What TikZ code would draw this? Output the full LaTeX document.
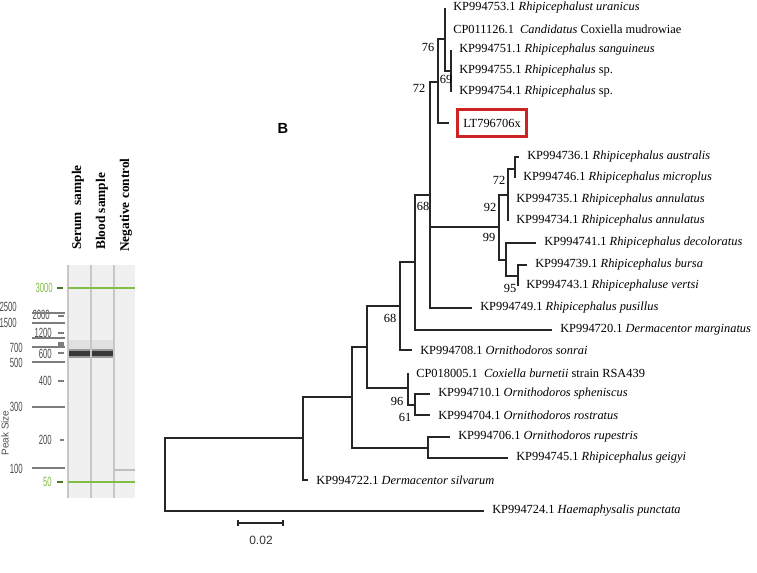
\documentclass[tikz,border=0pt]{standalone}
\usepackage{fontspec}
\setmainfont{Liberation Serif}
\newfontfamily\arialfont{Liberation Sans}
\newfontfamily\gelfont[FakeStretch=0.58]{Liberation Sans}
\usetikzlibrary{positioning}
\definecolor{gelgreen}{RGB}{130,190,70}
\definecolor{darkgreen}{RGB}{70,120,40}
\definecolor{boxred}{RGB}{205,35,35}
\definecolor{lanegrey}{RGB}{240,240,240}
\definecolor{tickgrey}{RGB}{125,125,125}

\begin{document}
\begin{tikzpicture}[x=0.75pt, y=-0.75pt,
branch/.style={line width=0.8pt, black!85},
leaf/.style={anchor=west, inner sep=0pt, xshift=6pt, font=\fontsize{9.3}{11}\selectfont},
boot/.style={inner sep=0pt, font=\fontsize{9.3}{11}\selectfont},
tick/.style={tickgrey, line width=0.9pt},
sizelabel/.style={anchor=east, inner sep=0pt, text=black!70, font=\gelfont\fontsize{10}{10}\selectfont},
header/.style={rotate=90, anchor=west, inner sep=0pt, font=\fontsize{10}{12}\selectfont\bfseries}
]
\useasboundingbox (0,0) rectangle (757,572);

% Gel panel
\fill[lanegrey] (68,265) rectangle (135,498);
\draw[black!22, line width=1pt] (68,265) -- (68,498);
\draw[black!22, line width=1.2pt] (91,265) -- (91,498);
\draw[black!22, line width=1.2pt] (114,265) -- (114,498);
\fill[black!12] (69,340) rectangle (90,349);
\fill[black!12] (92,340) rectangle (113,349);
\fill[black!40] (69,349) rectangle (90,358);
\fill[black!40] (92,349) rectangle (113,358);
\fill[black!78] (69,351) rectangle (90,356);
\fill[black!78] (92,351) rectangle (113,356);
\draw[black!25, line width=0.8pt] (115,470) -- (135,470);
\draw[gelgreen, line width=1.6pt] (68,288) -- (135,288);
\draw[gelgreen, line width=1.6pt] (68,482) -- (135,482);

\node[header] (serum) at (78,250) {Serum\ \ sample};
\node[header] (blood) at (102,250) {Blood sample};
\node[header] (negctl) at (126,252) {Negative control};

% size marks
\node[sizelabel, text=gelgreen] (s3000) at (53,288) {3000};
\node[sizelabel] (s2500) at (17,307) {2500};
\node[sizelabel] (s2000) at (50,315) {2000};
\node[sizelabel] (s1500) at (17,323) {1500};
\node[sizelabel] (s1200) at (52,333) {1200};
\node[sizelabel] (s700) at (23,348) {700};
\node[sizelabel] (s600) at (52,354) {600};
\node[sizelabel] (s500) at (23,363) {500};
\node[sizelabel] (s400) at (52,381) {400};
\node[sizelabel] (s300) at (23,407) {300};
\node[sizelabel] (s200) at (52,440) {200};
\node[sizelabel] (s100) at (23,469) {100};
\node[sizelabel, text=gelgreen] (s50) at (52,482) {50};
\draw[darkgreen, line width=1.6pt] (57,288) -- (63,288);
\draw[darkgreen, line width=1.6pt] (57,482) -- (63,482);
\draw[tick] (58,316) -- (64,316);
\draw[tick] (58,333) -- (64,333);
\draw[tick] (58,343) -- (64,343);
\draw[tick] (58,345) -- (64,345);
\draw[tick] (58,353) -- (64,353);
\draw[tick] (58,381) -- (64,381);
\draw[tick] (60,440) -- (64,440);
\draw[tick] (32,313) -- (65,313);
\draw[tick] (32,323) -- (65,323);
\draw[tick] (32,338) -- (65,338);
\draw[tick] (32,347) -- (65,347);
\draw[tick] (32,362) -- (65,362);
\draw[tick] (32,407) -- (65,407);
\draw[tick] (32,468) -- (65,468);
\node[rotate=90, inner sep=0pt, text=black!70, font=\arialfont\fontsize{7.5}{8}\selectfont] (peak) at (5,433) {Peak Size};

% Tree
\node[font=\arialfont\fontsize{11}{11}\selectfont\bfseries] (panelB) at (283,128) {B};

\coordinate (root) at (165,475);
\coordinate (n303) at (303,438);
\coordinate (n352) at (352,397);
\coordinate (n428) at (428,448);
\coordinate (n367) at (367,347);
\coordinate (n408) at (408,388);
\coordinate (n415b) at (415,405);
\coordinate (n400) at (400,306);
\coordinate (n415) at (415,262);
\coordinate (n430) at (430,195);
\coordinate (n438) at (438,82);
\coordinate (n445) at (445,39);
\coordinate (n451) at (451,71);
\coordinate (n499) at (499,227);
\coordinate (n508) at (508,195);
\coordinate (n515) at (515,169);
\coordinate (n506) at (506,260);
\coordinate (n518) at (518,276);

\coordinate (e1) at (445,8);
\coordinate (e2) at (445,29);
\coordinate (e3) at (451,50);
\coordinate (e4) at (451,71);
\coordinate (e5) at (451,92);
\coordinate (e7) at (519,157);
\coordinate (e8) at (515,178);
\coordinate (e9) at (508,200);
\coordinate (e10) at (508,221);
\coordinate (e11) at (536,243);
\coordinate (e12) at (527,265);
\coordinate (e13) at (518,286);
\coordinate (e14) at (472,308);
\coordinate (e15) at (552,330);
\coordinate (e16) at (412,350);
\coordinate (e17) at (408,373);
\coordinate (e18) at (430,394);
\coordinate (e19) at (430,415);
\coordinate (e20) at (450,437);
\coordinate (e21) at (508,458);
\coordinate (e22) at (308,480);
\coordinate (e23) at (484,511);

\node[leaf] (l1) at (e1) {KP994753.1 \textit{Rhipicephalust uranicus}};
\node[leaf] (l2) at (e2) {CP011126.1\ \ \textit{Candidatus} Coxiella mudrowiae};
\node[leaf] (l3) at (e3) {KP994751.1 \textit{Rhipicephalus sanguineus}};
\node[leaf] (l4) at (e4) {KP994755.1 \textit{Rhipicephalus} sp.};
\node[leaf] (l5) at (e5) {KP994754.1 \textit{Rhipicephalus} sp.};
\node[draw=boxred, line width=1.8pt, minimum width=52pt, minimum height=20pt, inner sep=0pt, font=\fontsize{9.3}{11}\selectfont] (lt) at (492,123) {LT796706x};
\node[leaf] (l7) at (e7) {KP994736.1 \textit{Rhipicephalus australis}};
\node[leaf] (l8) at (e8) {KP994746.1 \textit{Rhipicephalus microplus}};
\node[leaf] (l9) at (e9) {KP994735.1 \textit{Rhipicephalus annulatus}};
\node[leaf] (l10) at (e10) {KP994734.1 \textit{Rhipicephalus annulatus}};
\node[leaf] (l11) at (e11) {KP994741.1 \textit{Rhipicephalus decoloratus}};
\node[leaf] (l12) at (e12) {KP994739.1 \textit{Rhipicephalus bursa}};
\node[leaf] (l13) at (e13) {KP994743.1 \textit{Rhipicephaluse vertsi}};
\node[leaf] (l14) at (e14) {KP994749.1 \textit{Rhipicephalus pusillus}};
\node[leaf] (l15) at (e15) {KP994720.1 \textit{Dermacentor marginatus}};
\node[leaf] (l16) at (e16) {KP994708.1 \textit{Ornithodoros sonrai}};
\node[leaf] (l17) at (e17) {CP018005.1\ \ \textit{Coxiella burnetii} strain RSA439};
\node[leaf] (l18) at (e18) {KP994710.1 \textit{Ornithodoros spheniscus}};
\node[leaf] (l19) at (e19) {KP994704.1 \textit{Ornithodoros rostratus}};
\node[leaf] (l20) at (e20) {KP994706.1 \textit{Ornithodoros rupestris}};
\node[leaf] (l21) at (e21) {KP994745.1 \textit{Rhipicephalus geigyi}};
\node[leaf] (l22) at (e22) {KP994722.1 \textit{Dermacentor silvarum}};
\node[leaf] (l23) at (e23) {KP994724.1 \textit{Haemaphysalis punctata}};

\draw[branch] (root) |- (n303);
\draw[branch] (root) |- (e23);
\draw[branch] (n303) |- (n352);
\draw[branch] (n303) |- (e22);
\draw[branch] (n352) |- (n367);
\draw[branch] (n352) |- (n428);
\draw[branch] (n428) |- (e20);
\draw[branch] (n428) |- (e21);
\draw[branch] (n367) |- (n400);
\draw[branch] (n367) |- (n408);
\draw[branch] (n408) |- (e17);
\draw[branch] (n408) |- (n415b);
\draw[branch] (n415b) |- (e18);
\draw[branch] (n415b) |- (e19);
\draw[branch] (n400) |- (n415);
\draw[branch] (n400) |- (e16);
\draw[branch] (n415) |- (n430);
\draw[branch] (n415) |- (e15);
\draw[branch] (n430) |- (n438);
\draw[branch] (n430) |- (n499);
\draw[branch] (n430) |- (e14);
\draw[branch] (n438) |- (n445);
\draw[branch] (n438) |- ([xshift=-5pt]lt.west);
\draw[branch] (n445) |- (e1);
\draw[branch] (n445) |- (e2);
\draw[branch] (n445) |- (n451);
\draw[branch] (n451) |- (e3);
\draw[branch] (n451) |- (e5);
\draw[branch] (n499) |- (n508);
\draw[branch] (n499) |- (n506);
\draw[branch] (n508) |- (n515);
\draw[branch] (n508) |- (e9);
\draw[branch] (n508) |- (e10);
\draw[branch] (n515) |- (e7);
\draw[branch] (n515) |- (e8);
\draw[branch] (n506) |- (e11);
\draw[branch] (n506) |- (n518);
\draw[branch] (n518) |- (e12);
\draw[branch] (n518) |- (e13);

% bootstrap values
\node[boot] (b76) at (428,47) {76};
\node[boot] (b72a) at (419,88) {72};
\node[boot] (b69) at (446,79) {69};
\node[boot] (b72b) at (499,180) {72};
\node[boot] (b92) at (490,207) {92};
\node[boot] (b99) at (489,237) {99};
\node[boot] (b95) at (510,288) {95};
\node[boot] (b68a) at (423,206) {68};
\node[boot] (b68b) at (390,318) {68};
\node[boot] (b96) at (397,401) {96};
\node[boot] (b61) at (405,417) {61};

% scale bar
\coordinate (sbl) at (238,523);
\coordinate (sbr) at (283,523);
\draw[branch] (sbl) -- (sbr);
\draw[branch] ([yshift=2.5pt]sbl) -- ([yshift=-2.5pt]sbl);
\draw[branch] ([yshift=2.5pt]sbr) -- ([yshift=-2.5pt]sbr);
\node[font=\arialfont\fontsize{9}{9}\selectfont, text=black!80] (sbtext) at (261,540) {0.02};

\end{tikzpicture}
\end{document}
